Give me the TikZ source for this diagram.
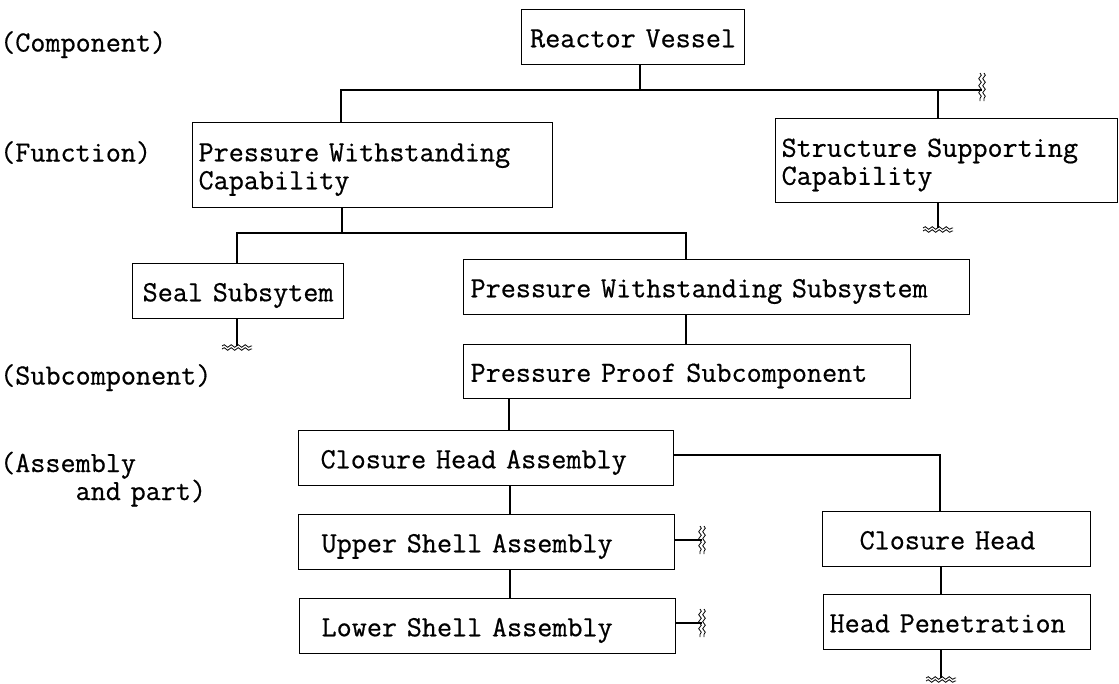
\documentclass[tikz,border=0pt]{standalone}
\usepackage{fontspec}
\newfontfamily\diagmono[FakeBold=0.6]{Latin Modern Mono}
\usetikzlibrary{decorations.pathmorphing}
\begin{document}
\begin{tikzpicture}[x=1pt,y=-1pt,
  every node/.style={font=\fontsize{29.3}{28}\selectfont\diagmono},
  bx/.style={draw, line width=1.2pt, anchor=north west, inner ysep=0pt},
  one/.style={text height=20.3pt, text depth=0pt},
  two/.style={text height=27pt},
  lbl/.style={anchor=base west, inner sep=0pt, align=left, text width=300pt},
  conn/.style={line width=1.2pt},
  wavy/.style={line width=0.8pt, decorate, decoration={snake, segment length=7pt, amplitude=1.3pt}},
  vbrk/.pic={\draw[wavy] (-2,-14) -- (-2,14); \draw[wavy] (2,-14) -- (2,14);},
  hbrk/.pic={\draw[wavy] (-15,0) -- (15,0); \draw[wavy] (-15,3) -- (15,3);}
]
\useasboundingbox (0,0) rectangle (1119,683);

% level labels
\node[lbl] (lcomp) at (0,51.5) {(Component)};
\node[lbl] (lfunc) at (0,161.5) {(Function)};
\node[lbl] (lsub) at (0,384.5) {(Subcomponent)};
\node[lbl, font=\fontsize{29.3}{25}\selectfont\diagmono] (lasm) at (0,472) {(Assembly\\\phantom{xxxxx}and part)};

% boxes
\node[bx, one, align=center, text width=211pt, inner xsep=6pt, minimum height=55pt] (rv) at (521,9) {Reactor Vessel};
\node[bx, two, align=left, text width=348pt, inner xsep=6pt, minimum height=85pt] (pwc) at (192,122) {Pressure Withstanding\\Capability};
\node[bx, two, align=left, text width=330pt, inner xsep=6pt, minimum height=84pt] (ssc) at (775,118) {Structure Supporting\\Capability};
\node[bx, one, align=center, text width=197pt, inner xsep=7pt, minimum height=55pt] (seal) at (132,263) {Seal Subsytem};
\node[bx, one, align=left, text width=492pt, inner xsep=7pt, minimum height=55pt] (pws) at (463,259) {Pressure Withstanding Subsystem};
\node[bx, one, align=left, text width=433pt, inner xsep=7pt, minimum height=54pt] (pps) at (463,344) {Pressure Proof Subcomponent};
\node[bx, one, align=left, text width=331pt, inner xsep=22pt, minimum height=55pt] (cha) at (298,430) {Closure Head Assembly};
\node[bx, one, align=left, text width=330pt, inner xsep=23pt, minimum height=55pt] (usa) at (298,514) {Upper Shell Assembly};
\node[bx, one, align=left, text width=332pt, inner xsep=22pt, minimum height=55pt] (lsa) at (299,598) {Lower Shell Assembly};
\node[bx, one, align=left, text width=194pt, inner xsep=37pt, minimum height=55pt] (ch) at (822,511) {Closure Head};
\node[bx, one, align=left, text width=255pt, inner xsep=6pt, minimum height=55pt] (hp) at (823,594) {Head Penetration};

% connector coordinates
\coordinate (b1l) at (341,90);
\coordinate (b1m) at (640,90);
\coordinate (b1s) at (938,90);
\coordinate (b1r) at (982,90);
\coordinate (w1) at (938,228);
\coordinate (b2l) at (237,233);
\coordinate (b2m) at (342,233);
\coordinate (b2r) at (686,233);
\coordinate (w2) at (237,346);
\coordinate (c1) at (509,0);
\coordinate (c2) at (510,0);
\coordinate (e1) at (940,455);
\coordinate (e2) at (941,0);
\coordinate (w3) at (941,678);
\coordinate (v1) at (702,540);
\coordinate (v2) at (702,623);

% connectors
\draw[conn] (b1m |- rv.south) -- (b1m);
\draw[conn] (b1l |- pwc.north) -- (b1l) -- (b1r);
\draw[conn] (b1s) -- (b1s |- ssc.north);
\pic at ([yshift=3pt]b1r) {vbrk};
\draw[conn] (w1 |- ssc.south) -- (w1);
\pic at (w1) {hbrk};

\draw[conn] (b2m |- pwc.south) -- (b2m);
\draw[conn] (b2l |- seal.north) -- (b2l) -- (b2r) -- (b2r |- pws.north);
\draw[conn] (w2 |- seal.south) -- (w2);
\pic at (w2) {hbrk};
\draw[conn] (b2r |- pws.south) -- (b2r |- pps.north);

\draw[conn] (c1 |- pps.south) -- (c1 |- cha.north);
\draw[conn] (c2 |- cha.south) -- (c2 |- usa.north);
\draw[conn] (c2 |- usa.south) -- (c2 |- lsa.north);
\draw[conn] (e1 -| cha.east) -- (e1) -- (e1 |- ch.north);
\draw[conn] (e2 |- ch.south) -- (e2 |- hp.north);
\draw[conn] (w3 |- hp.south) -- (w3);
\pic at (w3) {hbrk};

\draw[conn] (v1 -| usa.east) -- (v1);
\pic at (v1) {vbrk};
\draw[conn] (v2 -| lsa.east) -- (v2);
\pic at (v2) {vbrk};
\end{tikzpicture}
\end{document}
